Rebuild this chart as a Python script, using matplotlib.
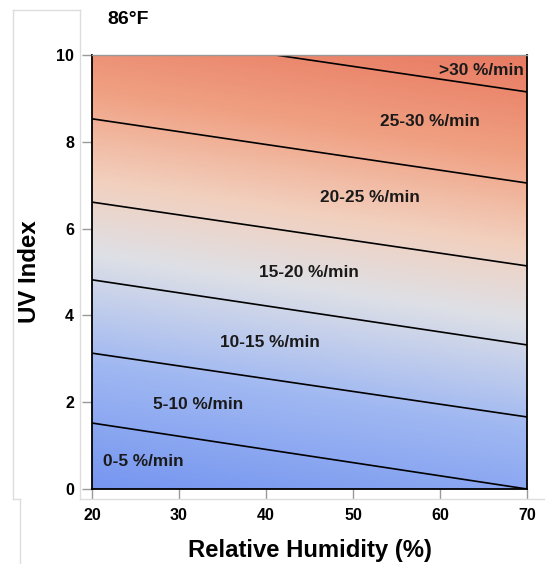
import numpy as np
import matplotlib.pyplot as plt
from matplotlib.colors import LinearSegmentedColormap
from matplotlib.lines import Line2D

plt.rcParams['font.family'] = ['Liberation Sans', 'DejaVu Sans']
plt.rcParams['font.weight'] = 'bold'

# boundary lines between rate bands (UV index at 20 % and 70 % humidity)
humidity_ends = [20, 70]
uv_at_20 = [1.52, 3.13, 4.82, 6.61, 8.53, 10.62]
uv_at_70 = [0.00, 1.66, 3.32, 5.14, 7.05, 9.15]

# band labels and where they sit
band_labels = ["0-5 %/min", "5-10 %/min", "10-15 %/min", "15-20 %/min",
               "20-25 %/min", "25-30 %/min", ">30 %/min"]
label_x = [25.9, 32.2, 40.5, 44.9, 52.0, 58.9, 64.8]
label_y = [0.64, 1.94, 3.37, 4.98, 6.71, 8.46, 9.65]

W, H = 545, 564
fig = plt.figure(figsize=(W / 100, H / 100), dpi=100)
ax = fig.add_axes([92 / W, 1 - 489 / H, (527 - 92) / W, (489 - 55) / H])

# background gradient running along the bands
cmap = LinearSegmentedColormap.from_list("uv", [
    (0.00, (118/255, 150/255, 240/255)),
    (0.25, (160/255, 184/255, 242/255)),
    (0.47, (222/255, 224/255, 230/255)),
    (0.62, (242/255, 208/255, 190/255)),
    (0.80, (240/255, 160/255, 130/255)),
    (1.00, (232/255, 122/255, 98/255)),
])
slope = (uv_at_20[0] - uv_at_70[0]) / 50
gx, gy = np.meshgrid(np.linspace(20, 70, 300), np.linspace(0, 10, 300))
field = gy + slope * (gx - 20)
ax.imshow(field, extent=[20, 70, 0, 10], origin="lower", aspect="auto",
          cmap=cmap, vmin=0, vmax=10 + slope * 50, interpolation="bilinear")

for a, b in zip(uv_at_20, uv_at_70):
    ax.plot(humidity_ends, [a, b], color="black", lw=1.2, clip_on=True)

for t, x, y in zip(band_labels, label_x, label_y):
    ax.text(x, y, t, ha="center", va="center", fontsize=12.4,
            fontweight="bold", color="#1a1a1a")

ax.set_xlim(20, 70)
ax.set_ylim(0, 10)
ax.set_xticks([20, 30, 40, 50, 60, 70])
ax.set_yticks([0, 2, 4, 6, 8, 10])
ax.tick_params(direction="out", length=7, width=1, color="#999999",
               labelsize=11.5, labelcolor="black")
ax.tick_params(axis="x", pad=7)
ax.tick_params(axis="y", pad=6)
for lab in ax.get_xticklabels() + ax.get_yticklabels():
    lab.set_fontweight("bold")

for s in ["left", "bottom", "right"]:
    ax.spines[s].set_color("black")
    ax.spines[s].set_linewidth(1.3)
ax.spines["top"].set_color("#999999")
ax.spines["top"].set_linewidth(1.0)

ax.set_xlabel("Relative Humidity (%)", fontsize=17.2, fontweight="bold",
              labelpad=11.5)
ax.set_ylabel("UV Index", fontsize=17.3, fontweight="bold", labelpad=11)

fig.text(128 / W, 1 - 19 / H, "86°F", ha="center", va="center",
         fontsize=14, fontweight="bold")

# light frame lines around the panel
frame = "#dddddd"
def fline(xs, ys):
    fig.add_artist(Line2D([x / W for x in xs], [1 - y / H for y in ys],
                          color=frame, lw=1, transform=fig.transFigure))
fline([13, 80], [10, 10])
fline([13, 13], [10, 499])
fline([80, 80], [10, 499])
fline([80, 545], [499, 499])
fline([13, 20], [499, 499])
fline([20, 20], [499, 564])

fig.savefig("out.png", dpi=100)
